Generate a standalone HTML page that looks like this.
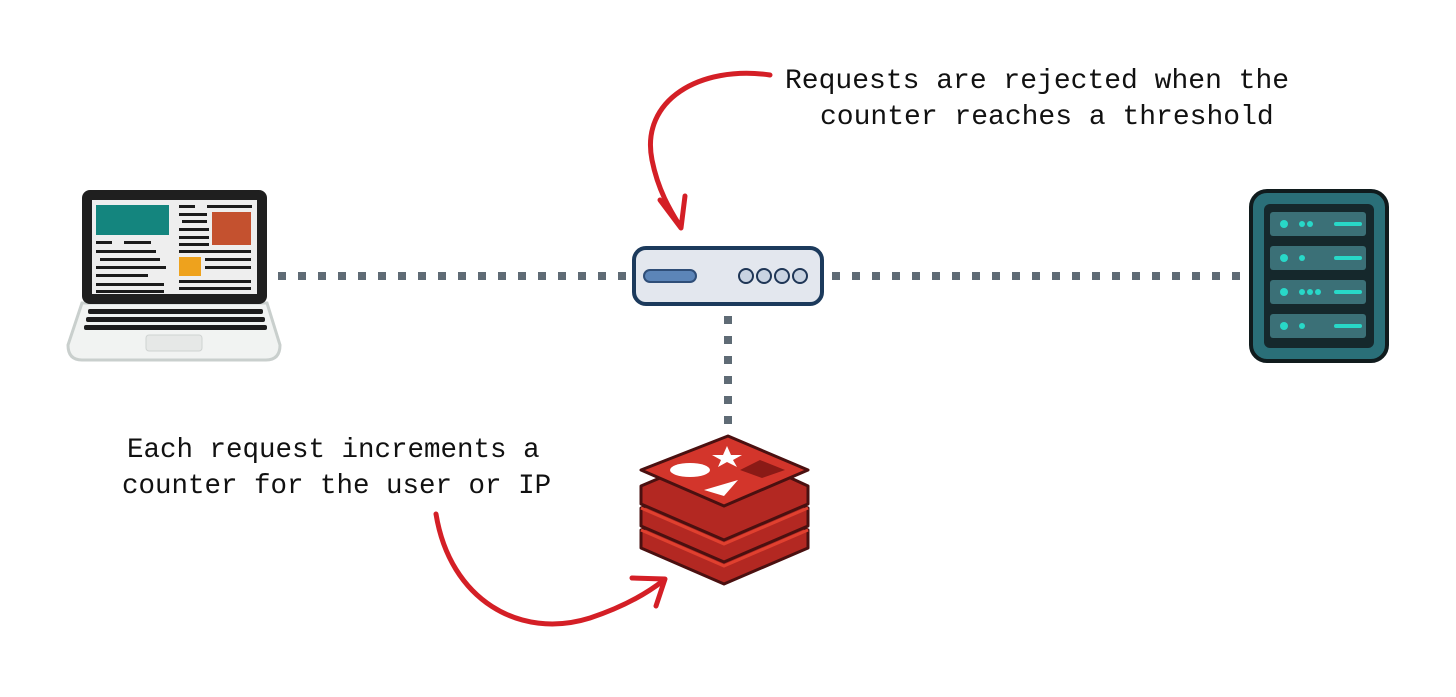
<!DOCTYPE html>
<html><head><meta charset="utf-8"><style>
html,body{margin:0;padding:0;background:#fff;}
svg{display:block}
text{font-family:"Liberation Mono",monospace;fill:#111;}
</style></head><body>
<svg width="1456" height="697" viewBox="0 0 1456 697" xmlns="http://www.w3.org/2000/svg">
<line x1="278" y1="276" x2="628" y2="276" stroke="#5f6b75" stroke-width="8" stroke-dasharray="8 12"/>
<line x1="832" y1="276" x2="1245" y2="276" stroke="#5f6b75" stroke-width="8" stroke-dasharray="8 12"/>
<line x1="728" y1="316" x2="728" y2="426" stroke="#5f6b75" stroke-width="8" stroke-dasharray="8 12"/>

<path d="M82 303 L68 345 Q68 360 82 360 L266 360 Q280 360 280 345 L267 303 Z" fill="#f1f3f2" stroke="#c9cfcd" stroke-width="3"/>
<g fill="#1d1d1d">
<rect x="88" y="309" width="175" height="5" rx="2"/>
<rect x="86" y="317" width="179" height="5" rx="2"/>
<rect x="84" y="325" width="183" height="5" rx="2"/>
</g>
<rect x="146" y="335" width="56" height="16" rx="3" fill="#e6e8e7" stroke="#cfd3d2"/>
<rect x="82" y="190" width="185" height="114" rx="8" fill="#1f1f1f"/>
<rect x="92" y="200" width="165" height="94" fill="#eeeeee"/>
<rect x="96" y="205" width="73" height="30" fill="#14857e"/>
<rect x="212" y="212" width="39" height="33" fill="#c4512f"/>
<rect x="179" y="257" width="22" height="19" fill="#eea21d"/>
<g fill="#1b1b1b">
<rect x="96" y="241" width="16" height="3"/><rect x="124" y="241" width="27" height="3"/>
<rect x="96" y="250" width="60" height="3"/><rect x="100" y="258" width="60" height="3"/>
<rect x="96" y="266" width="70" height="3"/><rect x="96" y="274" width="52" height="3"/>
<rect x="96" y="283" width="68" height="3"/><rect x="96" y="290" width="68" height="3"/>
<rect x="179" y="205" width="16" height="3"/><rect x="207" y="205" width="45" height="3"/>
<rect x="179" y="213" width="28" height="3"/><rect x="182" y="220" width="25" height="3"/>
<rect x="179" y="228" width="30" height="3"/><rect x="179" y="236" width="30" height="3"/>
<rect x="179" y="243" width="30" height="3"/><rect x="179" y="250" width="72" height="3"/>
<rect x="205" y="258" width="46" height="3"/><rect x="205" y="266" width="46" height="3"/>
<rect x="179" y="280" width="72" height="3"/><rect x="179" y="287" width="72" height="3"/>
</g>

<rect x="634" y="248" width="188" height="56" rx="12" fill="#e3e7ee" stroke="#1c3a5c" stroke-width="4"/>
<rect x="644" y="270" width="52" height="12" rx="6" fill="#5c85b8" stroke="#2f4e78" stroke-width="2"/>
<g fill="#c9d3e1" stroke="#1f3656" stroke-width="2">
<circle cx="746" cy="276" r="7"/><circle cx="764" cy="276" r="7"/><circle cx="782" cy="276" r="7"/><circle cx="800" cy="276" r="7"/>
</g>

<g stroke="#4a1010" stroke-width="3" stroke-linejoin="round">
<path d="M641 530 L728 493 L808 530 L808 548 L724 584 L641 548 Z" fill="#b32822"/>
<path d="M641 530 L724 566 L808 530" fill="none" stroke="#e0402f" stroke-width="3"/>
<path d="M641 508 L728 471 L808 508 L808 526 L724 562 L641 526 Z" fill="#b32822"/>
<path d="M641 508 L724 544 L808 508" fill="none" stroke="#e0402f" stroke-width="3"/>
<path d="M641 486 L728 449 L808 486 L808 504 L724 540 L641 504 Z" fill="#b32822"/>
<path d="M641 470 L728 436 L808 470 L724 506 Z" fill="#d3352b"/>
</g>
<ellipse cx="690" cy="470" rx="20" ry="7" fill="#fff"/>
<polygon points="727,446 731,455 742,455 733,460 737,467 727,462 718,467 721,460 712,455 723,455" fill="#fff"/>
<polygon points="704,490 738,480 724,496" fill="#fff"/>
<polygon points="740,470 760,460 785,470 762,478" fill="#8a1a16"/>

<rect x="1251" y="191" width="136" height="170" rx="16" fill="#2a6f78" stroke="#101b1d" stroke-width="4"/>
<rect x="1264" y="204" width="110" height="144" rx="6" fill="#15282c"/>
<g fill="#3b7077">
<rect x="1270" y="212" width="96" height="24" rx="3"/>
<rect x="1270" y="246" width="96" height="24" rx="3"/>
<rect x="1270" y="280" width="96" height="24" rx="3"/>
<rect x="1270" y="314" width="96" height="24" rx="3"/>
</g>
<g fill="#28d8c8">
<circle cx="1284" cy="224" r="4"/><circle cx="1284" cy="258" r="4"/><circle cx="1284" cy="292" r="4"/><circle cx="1284" cy="326" r="4"/>
<rect x="1334" y="222" width="28" height="4" rx="2"/><rect x="1334" y="256" width="28" height="4" rx="2"/>
<rect x="1334" y="290" width="28" height="4" rx="2"/><rect x="1334" y="324" width="28" height="4" rx="2"/>
<circle cx="1302" cy="224" r="3"/><circle cx="1310" cy="224" r="3"/>
<circle cx="1302" cy="258" r="3"/><circle cx="1302" cy="292" r="3"/><circle cx="1310" cy="292" r="3"/><circle cx="1318" cy="292" r="3"/>
<circle cx="1302" cy="326" r="3"/>
</g>

<g fill="none" stroke="#d41f26" stroke-width="5" stroke-linecap="round" stroke-linejoin="round">
<path d="M770 75 C700 65 640 100 652 160 C658 190 670 210 680 226"/>
<path d="M660 200 L681 228 L685 196"/>
<path d="M436 514 C450 600 520 640 590 618 C620 608 645 595 664 580"/>
<path d="M632 578 L665 579 L656 606"/>
</g>

<text x="785" y="88" font-size="28">Requests are rejected when the</text>
<text x="820" y="124" font-size="28">counter reaches a threshold</text>
<text x="127" y="457" font-size="27.5">Each request increments a</text>
<text x="122" y="493" font-size="27.5">counter for the user or IP</text>
</svg>
</body></html>
